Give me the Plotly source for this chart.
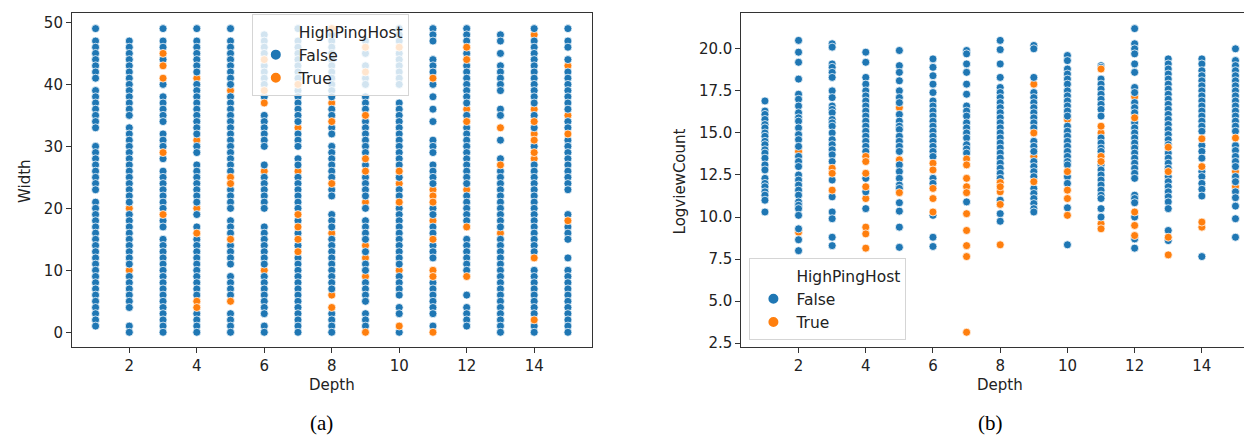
import plotly.graph_objects as go

# ---------------- data ----------------
depths = [1, 2, 3, 4, 5, 6, 7, 8, 9, 10, 11, 12, 13, 14, 15]

# Panel (a): Width per depth, HighPingHost False
width_false = [
    [49,47,46,45,44,43,42,41,39,38,37,36,35,34,33,30,29,28,27,26,25,24,23,21,20,19,18,17,16,15,14,13,12,11,10,9,8,7,6,5,4,3,2,1],
    [47,46,45,44,43,42,41,40,39,38,37,36,35,33,32,31,30,29,28,27,26,25,24,23,22,21,19,18,17,16,15,14,13,12,11,9,8,7,6,5,4,1,0],
    [49,47,46,44,40,38,37,36,35,34,32,31,30,28,26,25,24,23,22,21,20,18,17,15,14,13,12,11,10,9,8,7,6,5,4,3,2,1,0],
    [49,47,46,45,44,43,42,40,39,38,37,36,35,34,33,32,30,29,27,26,25,24,23,22,21,19,17,15,14,13,12,11,10,9,8,7,6,3,2,1,0],
    [49,47,46,45,44,43,42,41,40,38,37,36,35,34,33,32,31,30,29,28,27,26,23,22,21,20,18,17,16,14,13,12,11,9,8,7,6,3,2,1,0],
    [48,47,46,45,43,42,41,40,38,35,34,33,32,31,30,27,25,24,23,22,21,20,17,16,15,14,13,12,11,9,8,7,6,5,4,3,1,0],
    [49,47,46,45,44,43,42,41,39,38,37,36,35,34,32,31,30,28,27,25,24,23,22,21,20,18,16,14,12,11,10,9,8,7,6,5,4,3,2,1,0],
    [48,47,46,45,44,43,42,41,40,39,38,36,35,33,32,30,29,28,27,26,25,23,22,19,18,17,15,14,13,12,11,10,9,8,7,3,2,1,0],
    [47,45,43,41,40,38,37,36,34,33,32,31,30,29,27,25,24,23,22,20,18,17,16,15,13,11,10,8,7,6,5,3,2,1],
    [49,48,47,45,44,43,42,41,40,37,36,35,34,33,32,31,30,29,28,27,25,23,22,20,19,18,17,16,15,14,13,12,11,9,8,7,6,4,3,0],
    [49,48,47,44,43,42,40,38,36,34,31,30,29,27,26,25,24,20,19,17,16,14,13,12,8,7,6,5,4,3,1],
    [49,48,47,45,43,42,41,40,39,38,37,35,33,32,31,30,29,28,27,26,25,24,22,21,20,19,18,15,14,13,12,11,10,6,4,3,2,1],
    [48,47,45,43,42,41,40,39,36,35,31,28,26,25,24,23,22,21,20,19,18,17,15,14,13,12,11,10,9,8,7,6,5,4,3,2,1,0],
    [49,47,46,45,44,43,42,41,40,39,38,37,35,33,30,27,26,25,24,23,22,21,20,19,18,17,16,15,14,13,10,9,8,7,6,5,4,3,1,0],
    [49,47,46,44,42,41,40,39,38,37,36,34,33,31,30,29,28,27,26,25,24,23,19,17,16,15,12,10,9,8,7,6,5,4,3,2,1,0],
]
# HighPingHost True rows that come before the False rows in the data (drawn underneath)
width_true_early = [
    [], [20,10], [], [41,31,20], [39], [26,10], [33,26], [37,16,6],
    [21,14,12,9], [24,10], [23,18], [36,23], [16], [48,36,32,28], [43,35],
]
# HighPingHost True rows that come after the False rows (drawn on top)
width_true_late = [
    [], [], [45,43,41,29,19], [16,5,4], [25,24,15,5], [44,39,37], [40,19,17,15,13], [49,34,24,4],
    [46,42,35,28,26,0], [46,26,21,1], [41,22,21,15,10,9,0], [46,44,34,17,9], [33,27], [34,31,29,12,2], [32,18],
]

# Panel (b): LogviewCount per depth
log_false = [
    [16.9,16.3,16.1,15.8,15.5,15.3,15.0,14.8,14.5,14.3,14.0,13.8,13.5,13.1,12.8,12.3,12.0,11.8,11.5,11.3,11.0,10.3],
    [20.5,19.8,19.2,18.2,17.3,17.0,16.6,16.2,15.9,15.7,15.3,14.9,14.6,14.2,13.6,13.3,13.0,12.5,12.2,11.9,11.6,11.3,10.9,10.7,10.5,10.1,9.3,8.65,8.0],
    [20.3,20.1,19.1,18.9,18.6,18.3,17.5,17.1,16.6,16.4,16.2,15.8,15.6,15.4,15.0,14.6,14.3,14.0,13.7,13.3,12.2,11.2,10.3,9.9,8.8,8.3],
    [19.8,19.2,18.3,17.9,17.5,17.2,16.9,16.6,16.3,16.0,15.7,15.4,15.1,14.8,14.5,14.2,13.9,12.3,11.5,10.5],
    [19.9,19.0,18.6,18.1,17.5,17.1,16.8,16.1,15.7,15.4,15.2,14.8,14.5,14.2,13.9,13.1,12.7,12.3,11.9,11.7,10.85,10.35,9.4,8.2],
    [19.4,18.9,18.4,17.9,17.4,16.9,16.6,16.3,16.0,15.7,15.4,15.1,14.8,14.5,14.2,13.9,13.6,12.3,12.0,10.1,8.8,8.25],
    [19.9,19.7,19.1,18.6,17.9,17.3,16.6,16.3,16.0,15.6,15.3,15.0,14.7,14.3,14.05,13.8,10.9],
    [20.5,19.95,19.1,18.3,17.7,17.4,17.1,16.8,16.5,16.2,15.9,15.6,15.3,15.0,14.7,14.4,14.1,13.8,13.5,13.2,12.9,12.6,12.3,11.0,10.2,9.75],
    [20.2,20.0,18.3,17.4,17.1,16.8,16.5,16.2,15.9,15.6,15.3,14.5,14.2,13.9,13.3,13.0,12.7,12.4,11.7,11.4,11.1,10.8,10.5,10.3],
    [19.6,19.3,18.8,18.5,18.2,17.9,17.5,17.2,16.9,16.6,16.3,16.0,15.4,15.1,14.8,14.5,14.2,13.9,13.6,13.3,13.1,12.4,12.0,10.55,8.35],
    [19.0,18.9,18.2,17.9,17.6,17.3,17.0,16.7,16.4,16.0,14.7,14.4,14.1,13.9,13.1,12.8,12.5,12.2,11.9,11.6,11.3,11.1,10.5,10.0],
    [21.2,20.3,20.0,19.7,19.1,18.6,17.7,17.4,16.8,16.5,16.2,15.6,15.3,15.0,14.7,14.4,14.1,13.8,13.5,13.2,12.9,12.6,12.3,11.3,11.1,10.85,10.0,8.7,8.15],
    [19.4,19.1,18.8,18.5,18.2,17.9,17.6,17.3,17.0,16.7,16.4,16.1,15.8,15.5,15.2,14.9,14.6,14.3,13.8,13.5,13.2,12.9,12.4,12.1,11.8,11.5,11.2,10.9,10.5,9.2,8.6],
    [19.4,19.1,18.7,18.4,18.1,17.8,17.5,17.2,16.9,16.6,16.3,16.0,15.7,15.4,15.1,14.25,13.9,13.5,12.7,12.4,12.0,11.65,11.25,7.65],
    [20.0,19.3,19.0,18.7,18.4,18.1,17.8,17.5,17.2,16.9,16.6,16.3,16.0,15.7,15.4,15.1,14.25,13.95,13.6,13.3,13.0,12.4,12.1,11.5,11.15,10.65,9.9,8.8],
]
log_true_early = [
    [], [13.9,9.1], [], [11.1], [16.5,13.4], [], [], [11.5],
    [17.9,13.6], [15.8], [15.0,9.6], [17.15,14.2], [], [9.4], [12.7,11.8],
]
log_true_late = [
    [], [], [12.9,12.6,11.6], [13.6,13.3,12.6,11.8,9.4,9.0,8.15], [11.45], [13.2,12.8,11.7,11.1,10.3],
    [13.45,13.1,12.3,11.8,11.45,10.2,9.2,8.3,7.65,3.15], [12.05,11.8,10.75,8.35], [15.0,12.1],
    [12.7,11.6,11.1,10.1], [18.8,15.4,13.6,13.3,9.3], [15.9,10.3,9.5,8.9], [14.15,12.7,8.8,7.75],
    [14.65,13.0,9.7], [14.7],
]

hue_title = "HighPingHost"
hue_labels = ["False", "True"]

# ---------------- styling ----------------
BLUE = "#1f77b4"
ORANGE = "#ff7f0e"
FONT = "DejaVu Sans"
TXT = "#222222"
FS = 15
W, H = 1252, 436


def flatten(groups):
    xs, ys = [], []
    for d, vals in zip(depths, groups):
        xs += [d] * len(vals)
        ys += list(vals)
    return xs, ys


def mpl_range(vals, margin=0.05):
    lo, hi = min(vals), max(vals)
    pad = (hi - lo) * margin
    return [lo - pad, hi + pad]


fig = go.Figure()

marker_base = dict(size=8, line=dict(color="white", width=0.75))


def add_panel(false_g, early_g, late_g, xa, ya, legend_name):
    # legend title entry (as seaborn does)
    fig.add_trace(go.Scatter(x=[None], y=[None], mode="markers", name=hue_title,
                             marker=dict(color="rgba(0,0,0,0)", size=1),
                             xaxis=xa, yaxis=ya, legend=legend_name, legendrank=1,
                             hoverinfo="skip"))
    x, y = flatten(early_g)
    fig.add_trace(go.Scatter(x=x, y=y, mode="markers", name=hue_labels[1],
                             marker=dict(color=ORANGE, **marker_base),
                             xaxis=xa, yaxis=ya, legend=legend_name, showlegend=False))
    x, y = flatten(false_g)
    fig.add_trace(go.Scatter(x=x, y=y, mode="markers", name=hue_labels[0],
                             marker=dict(color=BLUE, **marker_base),
                             xaxis=xa, yaxis=ya, legend=legend_name, legendrank=2))
    x, y = flatten(late_g)
    fig.add_trace(go.Scatter(x=x, y=y, mode="markers", name=hue_labels[1],
                             marker=dict(color=ORANGE, **marker_base),
                             xaxis=xa, yaxis=ya, legend=legend_name, legendrank=3))


add_panel(width_false, width_true_early, width_true_late, "x", "y", "legend")
add_panel(log_false, log_true_early, log_true_late, "x2", "y2", "legend2")

all_w = [v for g in (width_false + width_true_early + width_true_late) for v in g]
all_l = [v for g in (log_false + log_true_early + log_true_late) for v in g]
x_rng = mpl_range(depths)

ydom = [1 - 343.4 / H, 1 - 5.5 / H]
axis_common = dict(showgrid=False, zeroline=False, showline=True, mirror=True,
                   linecolor="#333333", linewidth=1, ticks="outside", ticklen=5,
                   tickwidth=1, tickcolor="#333333",
                   tickfont=dict(family=FONT, size=FS, color=TXT))

legend_common = dict(xanchor="left", yanchor="top",
                     bgcolor="rgba(255,255,255,0.8)", bordercolor="#d5d5d5", borderwidth=1,
                     font=dict(family=FONT, size=FS + 0.5, color=TXT), itemsizing="constant",
                     itemwidth=36, traceorder="normal")

fig.update_layout(
    width=W, height=H,
    margin=dict(l=0, r=0, t=0, b=0),
    paper_bgcolor="white", plot_bgcolor="white",
    showlegend=True,
    xaxis=dict(domain=[64 / W, 584 / W], range=x_rng, tickvals=[2, 4, 6, 8, 10, 12, 14],
               anchor="y", **axis_common),
    yaxis=dict(domain=ydom, range=mpl_range(all_w), tickvals=[0, 10, 20, 30, 40, 50],
               anchor="x", **axis_common),
    xaxis2=dict(domain=[734 / W, 1.0], range=x_rng, tickvals=[2, 4, 6, 8, 10, 12, 14],
                anchor="y2", **axis_common),
    yaxis2=dict(domain=ydom, range=mpl_range(all_l),
                tickvals=[2.5, 5.0, 7.5, 10.0, 12.5, 15.0, 17.5, 20.0], tickformat=".1f",
                anchor="x2", **axis_common),
    legend=dict(x=244 / W, y=1 - 6 / H, **legend_common),
    legend2=dict(x=742 / W, y=1 - 253 / H, **legend_common),
)

ann_font = dict(family=FONT, size=FS, color=TXT)
annotations = [
    dict(text="Depth", x=(64 + 584) / 2 / W, y=1 - 381 / H, xref="paper", yref="paper",
         showarrow=False, xanchor="center", yanchor="middle", font=ann_font),
    dict(text="Depth", x=(734 + 1252) / 2 / W, y=1 - 381 / H, xref="paper", yref="paper",
         showarrow=False, xanchor="center", yanchor="middle", font=ann_font),
    dict(text="Width", x=17 / W, y=1 - 175 / H, xref="paper", yref="paper", textangle=-90,
         showarrow=False, xanchor="center", yanchor="middle", font=ann_font),
    dict(text="LogviewCount", x=673 / W, y=1 - 175 / H, xref="paper", yref="paper",
         textangle=-90, showarrow=False, xanchor="center", yanchor="middle", font=ann_font),
    dict(text="(a)", x=314 / W, y=1 - 420 / H, xref="paper", yref="paper", showarrow=False,
         xanchor="center", yanchor="middle",
         font=dict(family="Liberation Serif", size=21, color="#000000")),
    dict(text="(b)", x=983 / W, y=1 - 420 / H, xref="paper", yref="paper", showarrow=False,
         xanchor="center", yanchor="middle",
         font=dict(family="Liberation Serif", size=21, color="#000000")),
]
fig.update_layout(annotations=annotations)

fig.write_html("out.html")
